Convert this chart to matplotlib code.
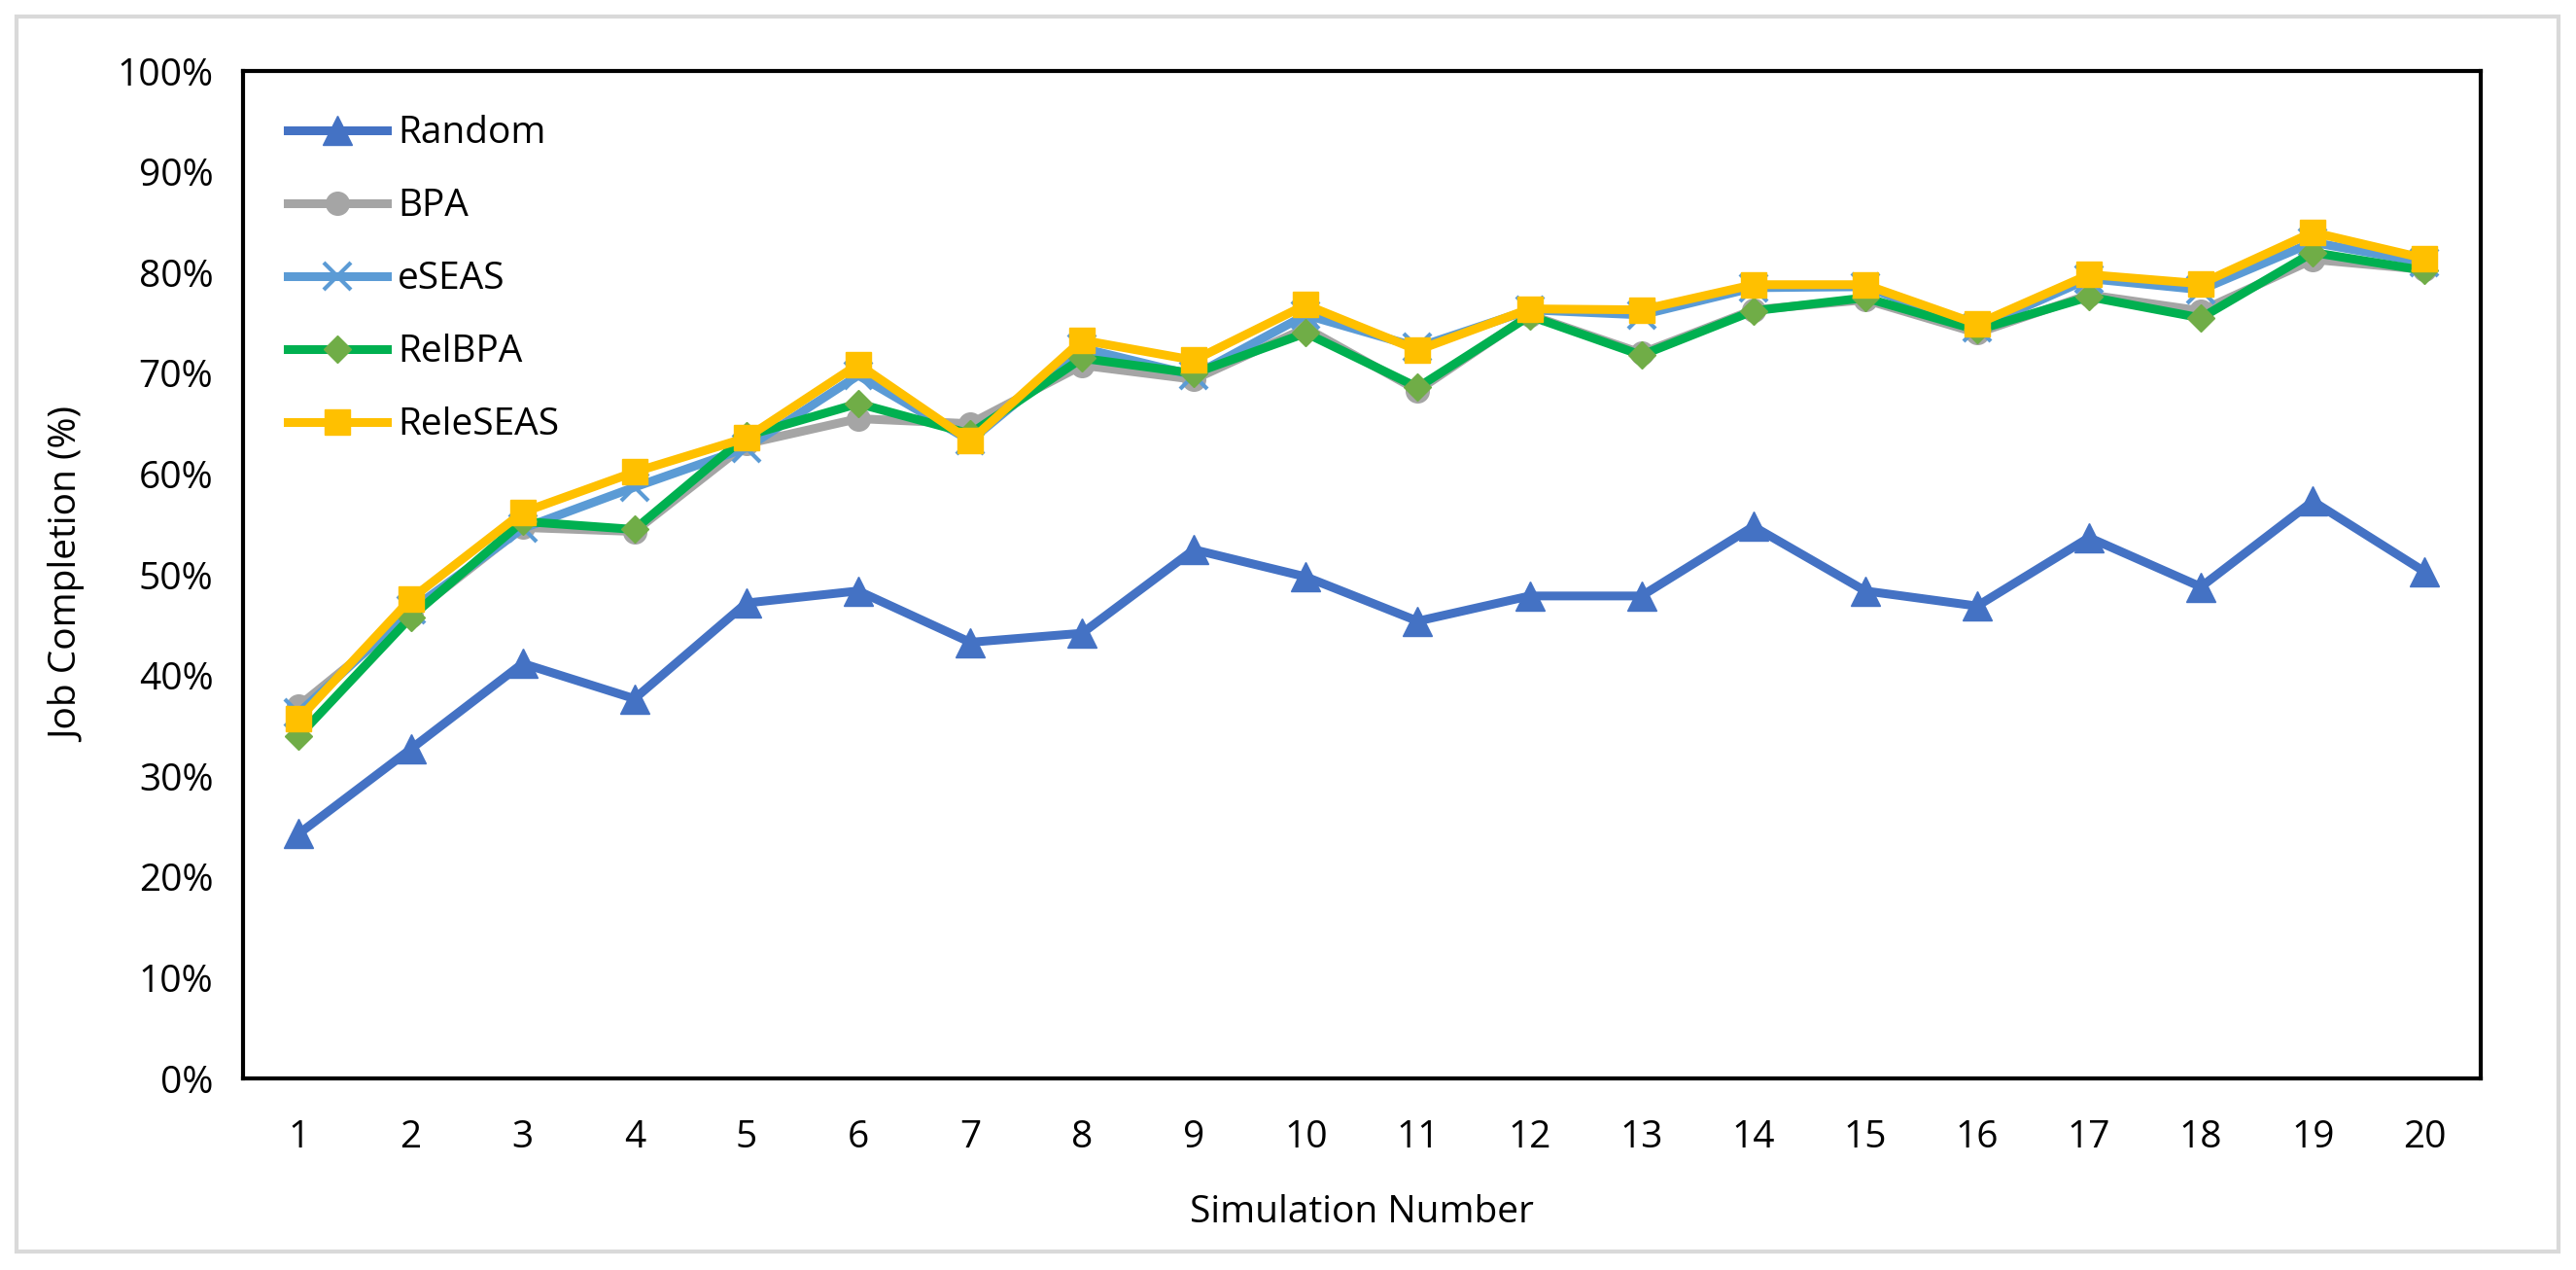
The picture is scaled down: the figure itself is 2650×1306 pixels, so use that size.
import matplotlib
matplotlib.use("Agg")
import matplotlib.pyplot as plt
from matplotlib.ticker import FuncFormatter
from matplotlib.patches import Rectangle

plt.rcParams['font.family'] = ['Open Sans', 'DejaVu Sans']

sim_numbers = list(range(1, 21))

random_vals = [24.3, 32.7, 41.2, 37.7, 47.2, 48.4, 43.3, 44.2, 52.5, 49.8,
               45.4, 47.9, 47.9, 54.8, 48.4, 46.9, 53.7, 48.8, 57.3, 50.3]
bpa_vals = [37.0, 46.0, 54.7, 54.3, 63.0, 65.5, 65.0, 70.8, 69.4, 74.5,
            68.3, 75.8, 72.0, 76.3, 77.3, 74.0, 77.8, 76.2, 81.3, 80.3]
eseas_vals = [36.3, 46.5, 54.6, 58.7, 62.6, 69.8, 63.3, 72.5, 69.8, 75.8,
              72.6, 76.3, 75.8, 78.5, 78.6, 74.5, 79.4, 78.3, 83.0, 81.0]
relbpa_vals = [34.0, 45.8, 55.3, 54.5, 63.8, 67.0, 64.0, 71.5, 70.0, 74.0,
               68.6, 75.7, 71.8, 76.2, 77.5, 74.3, 77.6, 75.5, 82.0, 80.2]
releseas_vals = [35.7, 47.6, 56.2, 60.2, 63.6, 70.9, 63.3, 73.3, 71.3, 76.8,
                 72.3, 76.4, 76.3, 78.8, 78.8, 74.9, 79.8, 78.9, 84.0, 81.4]

fig = plt.figure(figsize=(26.5, 13.06), dpi=100)
ax = fig.add_axes([0.0943, 0.1508, 0.8687, 0.7932])

lw = 6.5
ax.plot(sim_numbers, random_vals, color='#4472C4', lw=lw, marker='^', ms=22,
        mfc='#4472C4', mec='#4472C4', label='Random')
ax.plot(sim_numbers, bpa_vals, color='#A5A5A5', lw=lw, marker='o', ms=17,
        mfc='#A5A5A5', mec='#A5A5A5', label='BPA')
ax.plot(sim_numbers, eseas_vals, color='#5B9BD5', lw=lw, marker='x', ms=20,
        mew=3, mec='#5B9BD5', label='eSEAS')
ax.plot(sim_numbers, relbpa_vals, color='#00B050', lw=lw, marker='D', ms=14,
        mfc='#70AD47', mec='#70AD47', label='RelBPA')
ax.plot(sim_numbers, releseas_vals, color='#FFC000', lw=lw, marker='s', ms=19,
        mfc='#FFC000', mec='#FFC000', label='ReleSEAS')

ax.set_xlim(0.5, 20.5)
ax.set_ylim(0, 100)
ax.set_xticks(sim_numbers)
ax.set_yticks(range(0, 101, 10))
ax.yaxis.set_major_formatter(FuncFormatter(lambda v, p: f'{int(v)}%'))
ax.tick_params(axis='both', length=0, labelsize=28)
ax.tick_params(axis='x', pad=30)
ax.tick_params(axis='y', pad=22)

for s in ax.spines.values():
    s.set_linewidth(3)
    s.set_color('black')

ax.set_xlabel('Simulation Number', fontsize=28, labelpad=28)
ax.set_ylabel('Job Completion (%)', fontsize=28, labelpad=22)

ax.legend(loc='upper left', frameon=False, fontsize=28, handlelength=2.6,
          handletextpad=0.3, labelspacing=0.95, borderaxespad=0.5,
          bbox_to_anchor=(0.005, 0.99))

fig.patches.append(Rectangle((17 / 2650, 1 - 1287 / 1306), 2615 / 2650, 1270 / 1306,
                             transform=fig.transFigure, fill=False,
                             edgecolor='#D9D9D9', linewidth=3))

fig.savefig('out.png', dpi=100)
